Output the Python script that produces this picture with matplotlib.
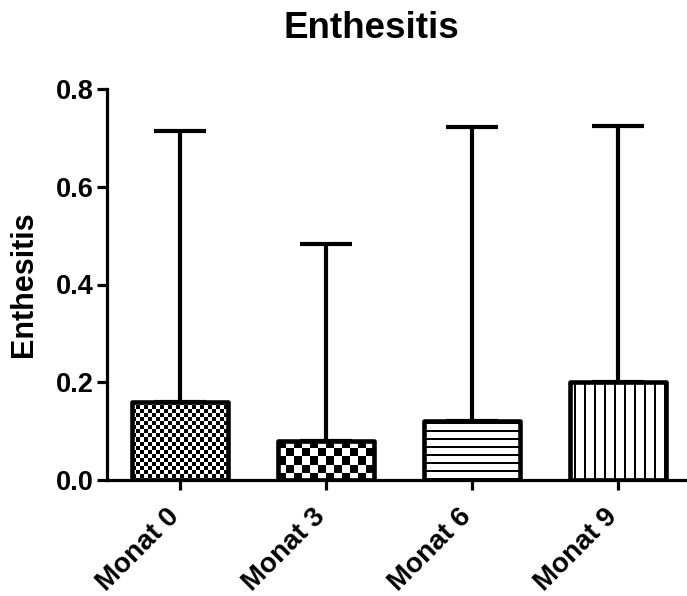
import numpy as np
import matplotlib
matplotlib.use("Agg")
import matplotlib.pyplot as plt

categories = ["Monat 0", "Monat 3", "Monat 6", "Monat 9"]
means = [0.16, 0.08, 0.12, 0.20]
sd = [0.555, 0.402, 0.602, 0.524]
patterns = ["checker_fine", "checker_coarse", "hlines", "vlines"]
yticks = [0.0, 0.2, 0.4, 0.6, 0.8]
title = "Enthesitis"
ylabel = "Enthesitis"

plt.rcParams['font.family'] = ['Liberation Sans', 'DejaVu Sans']
plt.rcParams['font.weight'] = 'bold'

W, H, DPI = 687, 596, 100
fig = plt.figure(figsize=(W / DPI, H / DPI), dpi=DPI)
ax = fig.add_axes([107 / W, 1 - 480 / H, 584 / W, (480 - 89) / H])

x = np.arange(len(categories))
ax.set_xlim(-0.5, 3.5)
ax.set_ylim(0, 0.8)

bars = ax.bar(x, means, width=0.655, facecolor='none', edgecolor='black',
              linewidth=3.3, zorder=3, joinstyle='round')

ax.errorbar(x, means, yerr=[np.zeros(len(sd)), sd], fmt='none', ecolor='black',
            elinewidth=3.0, capsize=18.5, capthick=3.0, zorder=2)


def make_pattern(kind, wpx, hpx):
    yy, xx = np.mgrid[0:hpx, 0:wpx]
    if kind == "checker_fine":
        c = 4
        img = ((xx // c + yy // c) % 2).astype(float)
    elif kind == "checker_coarse":
        c = 8
        img = ((xx // c + yy // c) % 2).astype(float)
    elif kind == "hlines":
        img = np.where((yy % 8) < 2, 0.0, 1.0)
        img = img[::-1]
    else:
        img = np.where(((xx + 6) % 10) < 2, 0.0, 1.0)
    return img


fig.canvas.draw()
for bar, kind in zip(bars, patterns):
    x0, y0 = bar.get_x(), bar.get_y()
    x1, y1 = x0 + bar.get_width(), y0 + bar.get_height()
    p0 = ax.transData.transform((x0, y0))
    p1 = ax.transData.transform((x1, y1))
    wpx = max(1, int(round(p1[0] - p0[0])))
    hpx = max(1, int(round(p1[1] - p0[1])))
    img = make_pattern(kind, wpx, hpx)
    im = ax.imshow(img, extent=(x0, x1, y0, y1), cmap='gray', vmin=0, vmax=1,
                   interpolation='nearest', aspect='auto', zorder=1, origin='upper')
    im.set_clip_path(bar)

ax.set_xlim(-0.5, 3.5)
ax.set_ylim(0, 0.8)

ax.set_xticks(x)
ax.set_xticklabels(categories, rotation=45, ha='right', va='baseline',
                   rotation_mode='anchor', fontsize=20, fontweight='bold')
ax.set_yticks(yticks)
ax.set_yticklabels([f"{v:.1f}" for v in yticks], fontsize=19.5, fontweight='bold')

for s in ['top', 'right']:
    ax.spines[s].set_visible(False)
for s in ['left', 'bottom']:
    ax.spines[s].set_linewidth(2.3)
ax.spines['left'].set_zorder(4)
ax.spines['bottom'].set_zorder(4)
ax.tick_params(axis='both', width=2.3, length=7.5, direction='out')
ax.tick_params(axis='y', pad=2)
ax.tick_params(axis='x', pad=20)

ax.set_ylabel(ylabel, fontsize=22, fontweight='bold', labelpad=12)
fig.text(371 / W, 1 - 28 / H, title, fontsize=26.5, fontweight='bold',
         ha='center', va='center')

fig.savefig("out.png", dpi=DPI)
